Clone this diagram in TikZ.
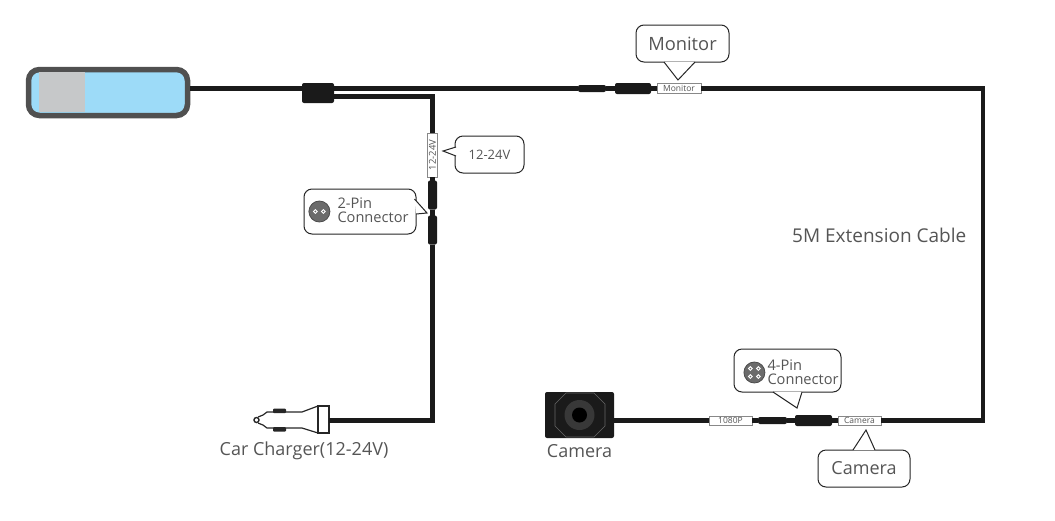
\documentclass[tikz,border=0pt]{standalone}
\usepackage{fontspec}
\setmainfont{Open Sans}
\usetikzlibrary{positioning}

\definecolor{cablecol}{HTML}{1A1A1A}
\definecolor{textcol}{HTML}{555555}
\definecolor{mirrorcol}{HTML}{505050}
\definecolor{screencol}{HTML}{9DDBF8}
\definecolor{panelcol}{HTML}{C6C8C9}

\tikzset{
	cable/.style={line width=4.2pt, cablecol},
	plug/.style={draw=none, fill=cablecol, rounded corners=2pt, inner sep=0pt, outer sep=0pt},
	tag/.style={draw=textcol!70, fill=white, line width=0.8pt, inner sep=0pt, outer sep=0pt, font=\fontsize{8.5}{9}\selectfont, text=textcol},
	callout/.style={draw=black!85, fill=white, line width=1pt, rounded corners=8pt, inner sep=0pt, text=textcol},
	caption/.style={inner sep=0pt, text=textcol, font=\fontsize{18}{20}\selectfont},
	pin/.style={circle, draw=white, fill=black!58, line width=0.9pt, inner sep=0pt, minimum size=3.6pt},
	pinhead/.style={circle, draw=black!70, fill=black!58, line width=0.8pt, inner sep=0pt, minimum size=21pt},
}

% #1 : first root, #2 : tip, #3 : second root
\newcommand{\pointer}[3]{%
	\filldraw [fill=white, draw=black!85, line width=1pt, line join=miter] (#1) -- (#2) -- (#3);%
}

\begin{document}
\begin{tikzpicture}[x=1pt, y=-1pt]

\path [use as bounding box] (0,0) rectangle (1055,520);

% MIRROR
\node [draw=mirrorcol, fill=screencol, line width=5.5pt, rounded corners=11pt, inner sep=0pt,
	minimum width=159pt, minimum height=46pt] (mirror) at (108,92.5) {};
\fill [panelcol] (39,72) rectangle (85,112);

% MAIN LINE
\node [plug, minimum width=32pt, minimum height=20pt] (splitter) at (318,93) {};
\node [plug, minimum width=28pt, minimum height=7pt] (conA) at (592,88.5) {};
\node [plug, minimum width=36pt, minimum height=11pt] (conB) at (633,88.5) {};
\node [tag, minimum width=44pt, minimum height=10pt] (tagMonitor) at (679,88.5) {Monitor};
\coordinate (cornerTop) at (983,88.5);

% BRANCH
\coordinate (cornerBranch) at (432.5,96.5);
\node [tag, rotate=90, minimum width=44pt, minimum height=10pt, font=\fontsize{9.5}{10}\selectfont] (tagVolt) at (432.5,155) {12-24V};
\node [plug, minimum width=9pt, minimum height=29pt] (conC) at (432.5,195) {};
\node [plug, minimum width=9pt, minimum height=29pt] (conD) at (432.5,230) {};
\coordinate (cornerCharger) at (432.5,420.5);

% CHARGER
\node [draw=black!85, fill=white, line width=1.2pt, inner sep=0pt, outer sep=0pt,
	minimum width=11pt, minimum height=27pt] (chargerHead) at (323.5,419.5) {};
\draw [line width=1.2pt, black!85] (chargerHead.north west) -- (302,412) -- (267,412) -- (263,415)
	-- (258,417) (chargerHead.south west) -- (302,428) -- (267,428) -- (263,425) -- (258,423);
\draw [line width=1.4pt, black!85] (256.5,420) circle (2.5pt);
\fill [black!85, rounded corners=1pt] (273,408.5) rectangle (286,413) (273,427) rectangle (286,431.5);
\node [caption, below=9pt of chargerHead.south, xshift=-19.5pt, anchor=north] (chargerText) {Car Charger(12-24V)};

% CAMERA
\node [plug, minimum width=69pt, minimum height=46pt] (camera) at (579.5,415) {};
\draw [line width=0.6pt, black!60] (566,393) -- (594,393) -- (605,404) -- (605,426) -- (594,437)
	-- (566,437) -- (555,426) -- (555,404) -- cycle;
\fill [black!78] (camera.center) circle (15pt);
\fill [black] (camera.center) circle (7.5pt);
\node [caption, below=6pt of camera.south] (cameraText) {Camera};

% BOTTOM LINE
\node [tag, minimum width=43pt, minimum height=9pt] (tagRes) at (730.5,420.5) {1080P};
\node [plug, minimum width=29pt, minimum height=7pt] (conE) at (772.5,420.5) {};
\node [plug, minimum width=37pt, minimum height=11pt] (conF) at (813.5,420.5) {};
\node [tag, minimum width=43pt, minimum height=9pt] (tagCamera) at (859.5,420.5) {Camera};
\coordinate (cornerBottom) at (983,420.5);

% CABLES
\draw [cable] (mirror.east |- conA) -- (splitter.west |- conA);
\draw [cable] (splitter.east |- conA) -- (conA.west);
\draw [cable] (conA.east) -- (conB.west);
\draw [cable] (conB.east) -- (tagMonitor.west);
\draw [cable, line join=miter] (tagMonitor.east) -- (cornerTop) -- (cornerBottom) -- (tagCamera.east);
\draw [cable] (tagCamera.west) -- (conF.east);
\draw [cable] (conF.west) -- (conE.east);
\draw [cable] (conE.west) -- (tagRes.east);
\draw [cable] (tagRes.west) -- (camera.east |- tagRes);
\draw [cable, line join=miter] (splitter.east |- cornerBranch) -- (cornerBranch) -- (tagVolt.east);
\draw [cable] (tagVolt.west) -- (conC.north);
\draw [cable] (conC.south) -- (conD.north);
\draw [cable, line join=miter] (conD.south) -- (cornerCharger) -- (chargerHead.east |- cornerCharger);

% CALLOUTS
\node [callout, minimum width=93pt, minimum height=37pt, font=\fontsize{18.3}{20}\selectfont] (boxMonitor) at (682.5,43.5) {Monitor};
\pointer{664,62}{678,80}{695,62}

\node [callout, minimum width=69pt, minimum height=37pt, font=\fontsize{13}{14}\selectfont] (boxVolt) at (489.5,154.5) {12-24V};
\pointer{456,147}{443,151}{456,156}

\node [callout, minimum width=112pt, minimum height=45pt] (boxTwo) at (360,211.5) {};
\pointer{414.5,199}{427,213}{416,214}
\node [pinhead, right=5pt of boxTwo.west] (headTwo) {};
\node [pin] at ([xshift=-4pt]headTwo.center) (pinTwoA) {};
\node [pin] at ([xshift=4pt]headTwo.center) (pinTwoB) {};
\node [right=7pt of headTwo.east, yshift=1pt, align=left, inner sep=0pt, text=textcol,
	font=\fontsize{14.6}{14}\selectfont] (textTwo) {2-Pin\\Connector};

\node [callout, minimum width=107pt, minimum height=43pt] (boxFour) at (787.5,370.5) {};
\pointer{773,392}{797,408}{802,392}
\node [pinhead, right=10pt of boxFour.west, yshift=-2pt] (headFour) {};
\foreach \dx/\dy [count=\i] in {-4/-4, 4/-4, -4/4, 4/4} {
	\node [pin] (pinFour\i) at ([xshift=\dx pt, yshift=\dy pt]headFour.center) {};
}
\node [right=2pt of headFour.east, align=left, inner sep=0pt, text=textcol,
	font=\fontsize{14.6}{14}\selectfont] (textFour) {4-Pin\\Connector};

\node [callout, minimum width=92pt, minimum height=37pt, font=\fontsize{18}{20}\selectfont] (boxCamera) at (864,468.5) {Camera};
\pointer{853,450}{866,430}{875,450}

% CABLE NOTE
\node [caption, anchor=west, font=\fontsize{19}{20}\selectfont] (noteCable) at (792,235) {5M Extension Cable};

\end{tikzpicture}
\end{document}
